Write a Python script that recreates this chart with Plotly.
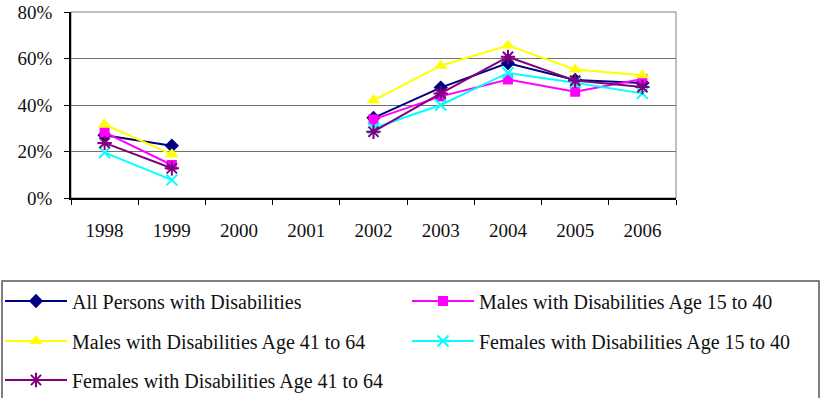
import plotly.graph_objects as go

years = ["1998", "1999", "2000", "2001", "2002", "2003", "2004", "2005", "2006"]

all_persons = [0.27, 0.225, None, None, 0.345, 0.475, 0.58, 0.508, 0.495]
males_15_40 = [0.282, 0.142, None, None, 0.338, 0.437, 0.51, 0.457, 0.512]
males_41_64 = [0.316, 0.188, None, None, 0.42, 0.569, 0.656, 0.553, 0.528]
females_15_40 = [0.195, 0.078, None, None, 0.30, 0.40, 0.538, 0.496, 0.45]
females_41_64 = [0.237, 0.128, None, None, 0.285, 0.45, 0.607, 0.505, 0.477]

series = [
    ("All Persons with Disabilities", all_persons, "#000080", "diamond", 11, "legend"),
    ("Males with Disabilities Age 15 to 40", males_15_40, "#FF00FF", "square", 10, "legend2"),
    ("Males with Disabilities Age 41 to 64", males_41_64, "#FFFF00", "triangle-up", 12, "legend3"),
    ("Females with Disabilities Age 15 to 40", females_15_40, "#00FFFF", "x-thin", 11, "legend4"),
    ("Females with Disabilities Age 41 to 64", females_41_64, "#800080", "asterisk", 12, "legend5"),
]

# plot area in pixels
L, R, T, B = 71, 144, 12, 200
W, H = 820, 398
pw, ph = W - L - R, H - T - B


def px_x(x):
    return (x - L) / pw


def px_y(y):
    return (H - B - y) / ph


fig = go.Figure()
for name, vals, color, sym, size, leg in series:
    thin = sym in ("x-thin", "asterisk")
    fig.add_trace(go.Scatter(
        x=years, y=vals, name=name, mode="lines+markers",
        connectgaps=False, legend=leg,
        line=dict(color=color, width=2),
        marker=dict(symbol=sym, size=size, color=color,
                    line=dict(color=color, width=2 if thin else 0)),
    ))

tick_font = dict(family="Liberation Serif", size=19, color="#111")
legend_font = dict(family="Liberation Serif", size=20, color="#111")

# plot area frame (gray top/right) and legend box
fig.add_shape(type="rect", xref="paper", yref="paper", x0=0, x1=1, y0=0, y1=1,
              line=dict(color="#808080", width=1), layer="below")
fig.add_shape(type="rect", xref="paper", yref="paper",
              x0=px_x(2), x1=px_x(819), y0=px_y(281), y1=px_y(420),
              line=dict(color="#555", width=1.5), fillcolor="rgba(0,0,0,0)")

legend_pos = {
    "legend": (0, 301), "legend2": (407, 301),
    "legend3": (0, 341), "legend4": (407, 341),
    "legend5": (0, 380),
}
layout_legends = {}
for key, (lx, ly) in legend_pos.items():
    layout_legends[key] = dict(
        x=px_x(lx), y=px_y(ly), xanchor="left", yanchor="middle",
        xref="paper", yref="paper",
        font=legend_font, bgcolor="rgba(0,0,0,0)", itemwidth=62,
    )

fig.update_layout(
    width=W, height=H,
    margin=dict(l=L, r=R, t=T, b=B, autoexpand=False),
    paper_bgcolor="white", plot_bgcolor="white",
    font=tick_font,
    showlegend=True,
    xaxis=dict(
        type="category", range=[-0.5, 8.5], tickson="boundaries",
        ticks="outside", ticklen=5, tickcolor="#000",
        showline=True, linecolor="#000", linewidth=1.5,
        showgrid=False, ticklabelstandoff=14, tickfont=tick_font,
        automargin=False,
    ),
    yaxis=dict(
        range=[0, 0.8], dtick=0.2, tickformat=".0%",
        ticks="outside", ticklen=5, tickcolor="#000",
        showline=True, linecolor="#000", linewidth=1.5,
        showgrid=True, gridcolor="#707070", gridwidth=1,
        zeroline=False, ticklabelstandoff=8, tickfont=tick_font,
        automargin=False,
    ),
    **layout_legends,
)

fig.write_html("out.html")
